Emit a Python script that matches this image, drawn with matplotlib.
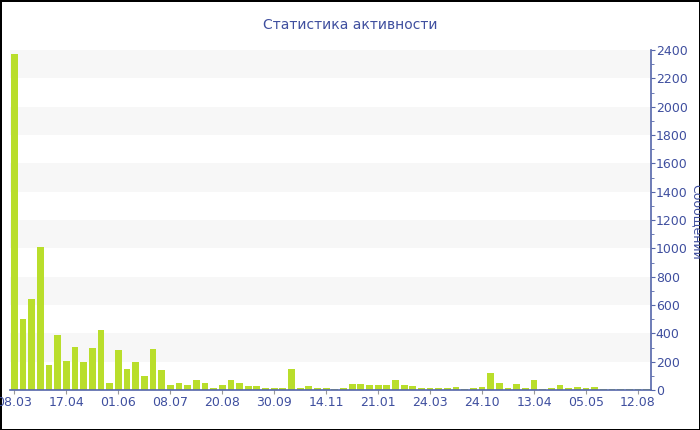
import numpy as np
import matplotlib.pyplot as plt
from matplotlib.ticker import MultipleLocator

# messages per period (74 bars)
messages = [2370, 500, 640, 1012, 174, 388, 205, 302, 197, 295,
            422, 48, 280, 147, 200, 100, 288, 140, 38, 52,
            34, 71, 50, 14, 36, 71, 47, 28, 28, 16,
            16, 12, 146, 16, 28, 16, 12, 7, 12, 42,
            42, 38, 33, 33, 73, 35, 28, 16, 12, 14,
            16, 19, 9, 12, 23, 118, 47, 12, 40, 14,
            73, 7, 12, 33, 14, 19, 12, 23, 5, 5,
            5, 5, 5, 5]
tick_labels = ["08.03", "17.04", "01.06", "08.07", "20.08", "30.09", "14.11",
               "21.01", "24.03", "24.10", "13.04", "05.05", "12.08"]
tick_step = 6

title = "Статистика активности"
ylabel = "Сообщений"

textColor = "#3f4f9f"
axisColor = "#5566aa"
barColor = "#b9de2b"

fig = plt.figure(figsize=(7, 4.3), dpi=100, edgecolor="black", linewidth=2)
ax = fig.add_axes([10/700, 40/430, 641/700, 340/430])

x = np.arange(len(messages))
ax.bar(x, messages, width=0.78, color=barColor, edgecolor="none", zorder=2)

# alternating background bands
for lo in range(200, 2400, 400):
    ax.axhspan(lo, lo + 200, color="#f7f7f7", zorder=0, linewidth=0)

ax.set_xlim(-0.5, len(messages) - 0.5)
ax.set_ylim(0, 2400)

ax.yaxis.tick_right()
ax.yaxis.set_major_locator(MultipleLocator(200))
ax.yaxis.set_minor_locator(MultipleLocator(100))
ax.tick_params(axis="y", which="major", direction="out", length=3, color=axisColor,
               labelcolor=textColor, labelsize=9, pad=0.5)
ax.tick_params(axis="y", which="minor", direction="out", length=2.5, color=axisColor)

ax.set_xticks(np.arange(0, len(messages), tick_step)[:len(tick_labels)])
ax.set_xticklabels(tick_labels)
ax.tick_params(axis="x", direction="out", length=3, color="#999999",
               labelcolor=textColor, labelsize=9, pad=1)

for side in ["left", "top"]:
    ax.spines[side].set_visible(False)
for side in ["right", "bottom"]:
    ax.spines[side].set_color(axisColor)
    ax.spines[side].set_linewidth(1.2)

fig.text(0.5, 1 - 25/430, title, ha="center", va="center", fontsize=10, color=textColor)
fig.text(696/700, 1 - 222/430, ylabel, rotation=270, ha="center", va="center",
         fontsize=9, color=textColor)

fig.savefig("out.png", dpi=100)
